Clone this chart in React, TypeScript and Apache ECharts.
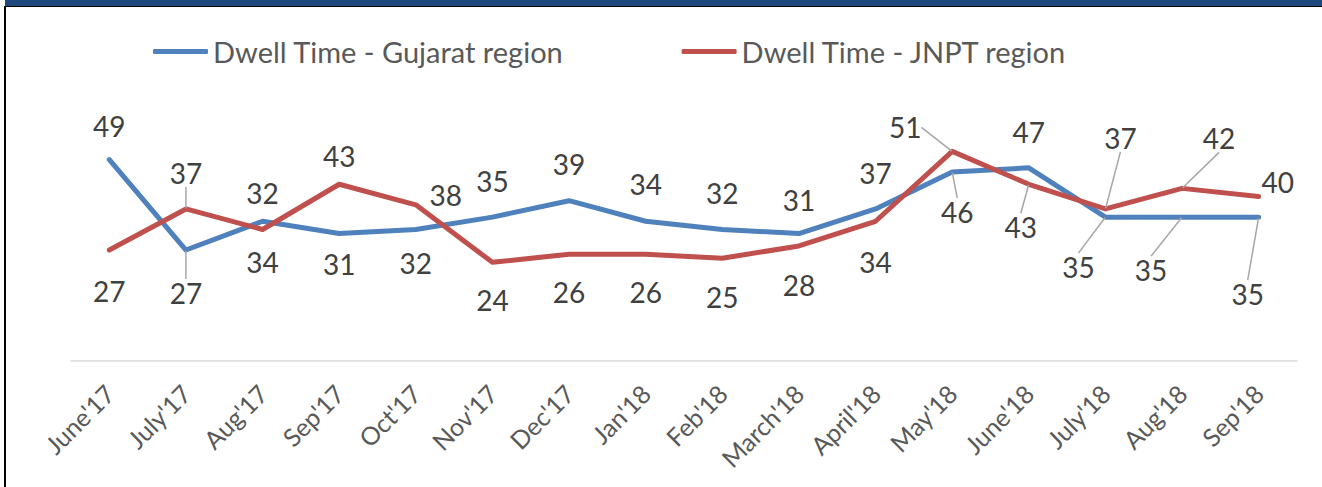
import React, { useEffect, useRef } from "react";
import * as echarts from "echarts";

const categories = [
  "June'17", "July'17", "Aug'17", "Sep'17", "Oct'17", "Nov'17", "Dec'17", "Jan'18",
  "Feb'18", "March'18", "April'18", "May'18", "June'18", "July'18", "Aug'18", "Sep'18",
];
const gujaratValues = [49, 27, 34, 31, 32, 35, 39, 34, 32, 31, 37, 46, 47, 35, 35, 35];
const jnptValues = [27, 37, 32, 43, 38, 24, 26, 26, 25, 28, 34, 51, 43, 37, 42, 40];
const seriesNames = ["Dwell Time - Gujarat region", "Dwell Time - JNPT region"];

// label placement (layout only)
const gujaratLabelOffsets: [number, number][] = [
  [0, -34], [0, 43], [0, 41], [0, 30], [0, 34], [0, -36], [0, -37], [0, -37],
  [0, -36], [0, -34], [0, -36], [5, 40], [0, -36], [-27, 50], [-31, 53], [-11, 77],
];
const jnptLabelOffsets: [number, number][] = [
  [0, 41], [0, -36], [0, -36], [0, -28], [30, -10], [0, 38], [0, 38], [0, 38],
  [0, 39], [0, 39], [0, 41], [-47, -24], [-8, 43], [15, -71], [37, -50], [19, -15],
];
const gujaratLeaders = [1, 11, 13, 14, 15];
const jnptLeaders = [1, 11, 12, 13, 14];

const FONT = "Lato, 'Open Sans', sans-serif";

function buildData(values: number[], leaders: number[]) {
  return values.map((v, i) => ({
    value: v,
    labelLine: { show: leaders.includes(i) },
  }));
}

export default function App() {
  const ref = useRef<HTMLDivElement>(null);
  useEffect(() => {
    document.body.style.margin = "0";
    if (!ref.current) return;
    const chart = echarts.init(ref.current, undefined, { renderer: "svg" });
    const mkSeries = (
      name: string,
      values: number[],
      color: string,
      offsets: [number, number][],
      leaders: number[]
    ) => ({
      name,
      type: "line",
      data: buildData(values, leaders),
      symbol: "circle",
      symbolSize: 1,
      showSymbol: true,
      itemStyle: { color },
      lineStyle: { color, width: 5, cap: "round", join: "round" },
      label: {
        show: true,
        position: "inside",
        color: "#404040",
        fontFamily: FONT,
        fontSize: 28,
        align: "center",
        verticalAlign: "middle",
      },
      labelLine: {
        show: false,
        lineStyle: { color: "#a6a6a6", width: 1.5 },
      },
      labelLayout: (p: any) => ({
        dx: offsets[p.dataIndex][0],
        dy: offsets[p.dataIndex][1],
      }),
      emphasis: { disabled: true },
      z: name === seriesNames[1] ? 3 : 2,
    });
    chart.setOption({
      animation: false,
      legend: {
        left: 148,
        top: 32,
        itemWidth: 55,
        itemHeight: 5,
        itemGap: 118,
        icon: "roundRect",
        textStyle: { color: "#595959", fontFamily: FONT, fontSize: 29 },
        data: seriesNames,
      },
      grid: { left: 71, right: 25, top: 114.4, bottom: 126, containLabel: false },
      xAxis: {
        type: "category",
        data: categories,
        boundaryGap: true,
        axisLine: { lineStyle: { color: "#d9d9d9", width: 1.5 } },
        axisTick: { show: false },
        axisLabel: {
          rotate: 45,
          interval: 0,
          margin: 28,
          color: "#595959",
          fontFamily: FONT,
          fontSize: 25,
        },
      },
      yAxis: {
        type: "value",
        min: 0,
        max: 60,
        interval: 10,
        show: false,
      },
      series: [
        mkSeries(seriesNames[0], gujaratValues, "#4f81bd", gujaratLabelOffsets, gujaratLeaders),
        mkSeries(seriesNames[1], jnptValues, "#c0504d", jnptLabelOffsets, jnptLeaders),
      ],
    });
    return () => chart.dispose();
  }, []);
  return (
    <div style={{ position: "relative", width: 1322, height: 487, background: "#fff", overflow: "hidden" }}>
      <div style={{ position: "absolute", left: 5, top: 0, width: 1317, height: 6, background: "#1f497d" }} />
      <div style={{ position: "absolute", left: 4, top: 6, width: 1318, height: 1, background: "#000" }} />
      <div style={{ position: "absolute", left: 4, top: 6, width: 2, height: 481, background: "#000" }} />
      <div ref={ref} style={{ position: "absolute", left: 0, top: 0, width: 1322, height: 487 }} />
    </div>
  );
}
